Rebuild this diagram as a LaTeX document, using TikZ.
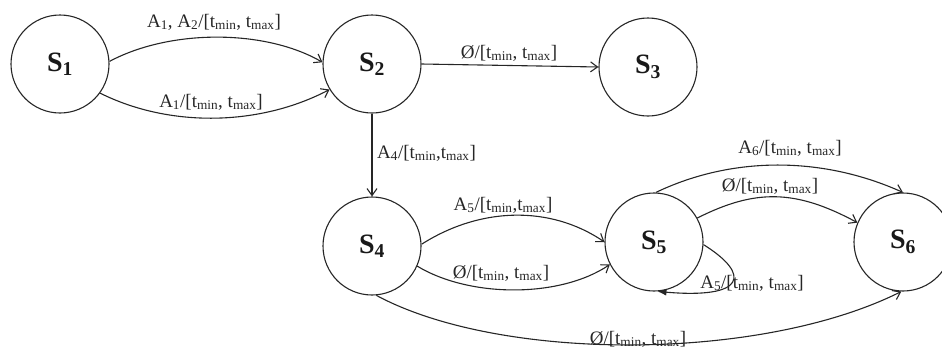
\documentclass[tikz,border=0pt]{standalone}
\usepackage{fontspec}
\setmainfont{Liberation Serif}
\usetikzlibrary{arrows.meta}
\newcommand{\tmm}{[t\textsubscript{min}, t\textsubscript{max}]}
\newcommand{\tmmc}{[t\textsubscript{min},t\textsubscript{max}]}
\begin{document}
\begin{tikzpicture}[x=1pt,y=-1pt,
  state/.style={circle,draw=black!85,line width=1.1pt,minimum size=98pt,inner sep=0pt,
    font=\fontsize{28}{32}\selectfont\bfseries,text=black!90},
  edge/.style={draw=black!85,line width=1.1pt,-{Straight Barb[length=7pt,width=10pt]}},
  loopedge/.style={draw=black!85,line width=1.1pt,-{Latex[length=9pt,width=7pt]}},
  lbl/.style={font=\fontsize{19}{22}\selectfont,inner sep=0pt,text=black!85}]
\useasboundingbox (0,0) rectangle (942,349);
\begin{scope}
\clip (0,0) rectangle (942,349);
\node[state] (s1) at (60,64) {S\textsubscript{1}};
\node[state] (s2) at (372,64) {S\textsubscript{2}};
\node[state] (s3) at (648,67) {S\textsubscript{3}};
\node[state] (s4) at (372,246) {S\textsubscript{4}};
\node[state] (s5) at (654,242) {S\textsubscript{5}};
\node[state] (s6) at (903,242) {S\textsubscript{6}};

\draw[edge] (s1.3) .. controls (170,29) and (265,29) .. (s2.178);
\draw[edge] (s1.-36) .. controls (170,128) and (260,126) .. (s2.211);
\draw[edge] (s2.east) -- (s3.west);
\draw[edge] (s2.south) -- (s4.north);
\draw[edge] (s4.2) .. controls (480,207) and (550,205) .. (s5.180);
\draw[edge] (s4.-24) .. controls (470,298) and (560,298) .. (s5.207);
\draw[edge] (s4.-85) .. controls (500,362) and (760,362) .. (s6.-92);
\draw[edge] (s5.88) .. controls (732,156) and (822,156) .. (s6.90);
\draw[edge] (s5.29) .. controls (755,189) and (795,189) .. (s6.157);
\draw[loopedge] (s5.-3) .. controls (752,275) and (745,299) .. (s5.-86);

\node[lbl] (l1) at (214,22) {A\textsubscript{1}, A\textsubscript{2}/\tmm};
\node[lbl] (l2) at (211,102) {A\textsubscript{1}/\tmm};
\node[lbl] (l3) at (509,53) {Ø/\tmm};
\node[lbl,anchor=west] (l4) at (377,153) {A\textsubscript{4}/\tmmc};
\node[lbl] (l5) at (503,205) {A\textsubscript{5}/\tmmc};
\node[lbl] (l6) at (501,273) {Ø/\tmm};
\node[lbl] (l7) at (790,148) {A\textsubscript{6}/\tmm};
\node[lbl] (l8) at (770,186) {Ø/\tmm};
\node[lbl] (l9) at (752,283) {A\textsubscript{5}/\tmm};
\node[lbl] (l10) at (638,339) {Ø/\tmm};
\end{scope}
\end{tikzpicture}
\end{document}
